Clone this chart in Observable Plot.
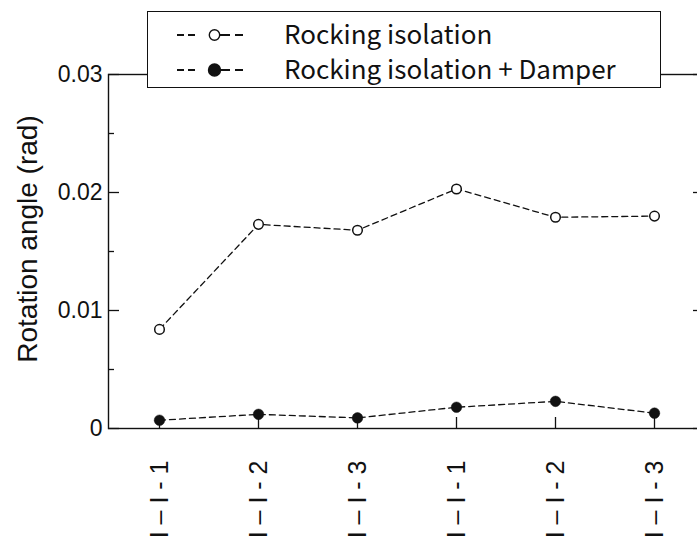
<!DOCTYPE html>
<html><head><meta charset="utf-8">
<script src="https://cdn.jsdelivr.net/npm/d3@7"></script>
<script src="https://cdn.jsdelivr.net/npm/@observablehq/plot@0.6"></script>
<style>
html,body{margin:0;padding:0;background:#fff;overflow:hidden;}
#wrap{position:relative;width:697px;height:540px;overflow:hidden;}
#wrap > svg{display:block;max-width:none !important;}
#legend{position:absolute;left:147px;top:11px;width:514px;height:77px;box-sizing:border-box;border:1.3px solid #111;background:#fff;font-family:"Noto Sans CJK JP";font-size:26px;color:#111;}
.row{position:absolute;left:0;height:30px;line-height:30px;white-space:nowrap;}
.row svg{position:absolute;left:0;top:0;}
.row span{position:absolute;left:136px;top:0;}
</style></head><body><div id="wrap"><div id="legend"></div></div>
<script>
const categories = ["I – I - 1", "I – I - 2", "I – I - 3", "II – I - 1", "II – I - 2", "II – I - 3"];
const rockingIsolation = [0.0084, 0.0173, 0.0168, 0.0203, 0.0179, 0.0180];
const rockingDamper = [0.0007, 0.0012, 0.0009, 0.0018, 0.0023, 0.0013];
const yMajorTicks = [0, 0.01, 0.02, 0.03];
const yMinorTicks = [0.005, 0.015, 0.025];
const seriesNames = ["Rocking isolation", "Rocking isolation + Damper"];
const yTitle = "Rotation angle (rad)";

const W = 704, H = 540, ML = 108, MR = 0, MT = 74, MB = 112;
const plotW = W - ML - MR, plotH = H - MT - MB;

const dataOpen = categories.map((c, i) => ({cat: c, v: rockingIsolation[i]}));
const dataFill = categories.map((c, i) => ({cat: c, v: rockingDamper[i]}));

const chart = Plot.plot({
  width: W, height: H,
  marginLeft: ML, marginRight: MR, marginTop: MT, marginBottom: MB,
  style: {background: "#fff", color: "#111", maxWidth: "none"},
  x: {type: "point", domain: categories, padding: 0.5},
  y: {domain: [0, 0.03]},
  marks: [
    Plot.frame({stroke: "#111", strokeWidth: 1.4}),
    Plot.tickY(yMajorTicks, {y: d => d, insetRight: plotW - 11, stroke: "#111", strokeWidth: 1.3}),
    Plot.tickY(yMajorTicks, {y: d => d, insetLeft: plotW - 11, stroke: "#111", strokeWidth: 1.3}),
    Plot.tickY(yMinorTicks, {y: d => d, insetRight: plotW - 6, stroke: "#111", strokeWidth: 1.3}),
    Plot.tickY(yMinorTicks, {y: d => d, insetLeft: plotW - 6, stroke: "#111", strokeWidth: 1.3}),
    Plot.tickX(categories, {x: d => d, insetTop: plotH - 11, stroke: "#111", strokeWidth: 1.3}),
    Plot.axisY({ticks: yMajorTicks, tickSize: 0, tickPadding: 6, label: null,
      tickFormat: d => d === 0 ? "0" : d3.format(".2f")(d),
      fontSize: 23, fontFamily: "Liberation Sans", fill: "#111"}),
    Plot.axisX({tickSize: 0, tickPadding: 32, tickRotate: -90, label: null,
      fontSize: 25, fontFamily: "Liberation Sans", fill: "#111"}),
    Plot.line(dataOpen, {x: "cat", y: "v", stroke: "#111", strokeWidth: 1.3, strokeDasharray: "6,4"}),
    Plot.line(dataFill, {x: "cat", y: "v", stroke: "#111", strokeWidth: 1.3, strokeDasharray: "6,4"}),
    Plot.dot(dataOpen, {x: "cat", y: "v", r: 4.8, fill: "#fff", stroke: "#111", strokeWidth: 1.5}),
    Plot.dot(dataFill, {x: "cat", y: "v", r: 5.3, fill: "#111", stroke: "#111", strokeWidth: 0.5})
  ]
});

const wrap = document.getElementById("wrap");
wrap.insertBefore(chart, wrap.firstChild);

d3.select(chart).append("text")
  .attr("transform", "translate(37,239) rotate(-90)")
  .attr("text-anchor", "middle")
  .attr("fill", "#111")
  .style("font-family", "Liberation Sans")
  .style("font-size", "28px")
  .text(yTitle);

const legend = d3.select("#legend");
const rowTops = [6, 41];
seriesNames.forEach((name, i) => {
  const row = legend.append("div").attr("class", "row").style("top", rowTops[i] + "px");
  const s = row.append("svg").attr("width", 110).attr("height", 30);
  // swatch: dashed line with marker, offsets relative to legend box (left edge at 148)
  s.append("line").attr("x1", 29).attr("x2", 96).attr("y1", 17).attr("y2", 17)
    .attr("stroke", "#111").attr("stroke-width", 1.8).attr("stroke-dasharray", "7,4,7,25,10,5,8,100");
  s.append("circle").attr("cx", 66.5).attr("cy", 17).attr("r", i === 0 ? 5.2 : 6)
    .attr("fill", i === 0 ? "#fff" : "#111").attr("stroke", "#111").attr("stroke-width", 1.4);
  row.append("span").text(name);
});
</script>
</body></html>
